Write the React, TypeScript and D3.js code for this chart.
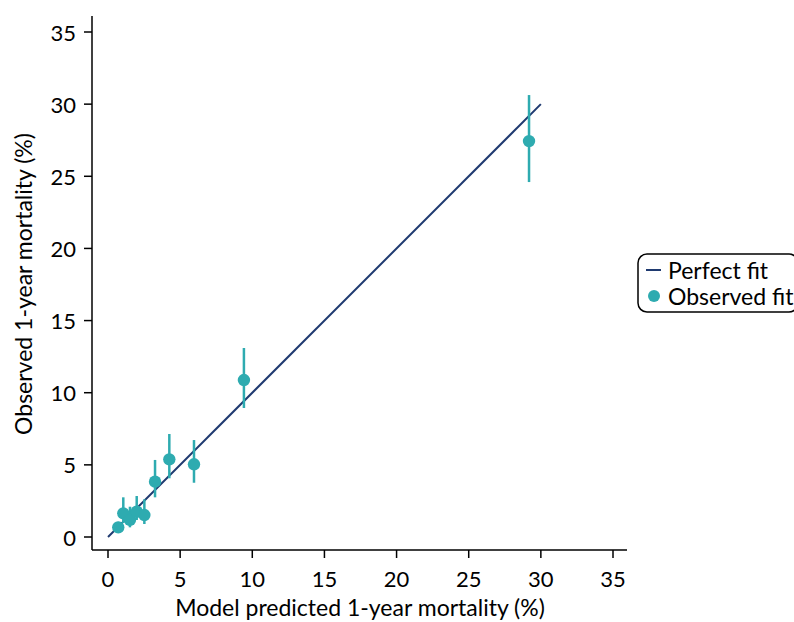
import React from "react";
import * as d3 from "d3";

const predicted = [0.71, 1.06, 1.52, 1.99, 2.52, 3.26, 4.25, 5.96, 9.42, 29.18];
const observed = [0.67, 1.64, 1.18, 1.75, 1.52, 3.83, 5.38, 5.04, 10.88, 27.44];
const lower = [0.35, 0.97, 0.67, 1.18, 0.9, 2.75, 4.07, 3.76, 8.94, 24.6];
const upper = [1.05, 2.75, 2.1, 2.84, 2.61, 5.34, 7.14, 6.72, 13.1, 30.63];
const perfectFit = [0, 30];
const ticks = [0, 5, 10, 15, 20, 25, 30, 35];
const legendLabels = ["Perfect fit", "Observed fit"];

const TEAL = "#2EABB0";
const NAVY = "#1F3A70";
const FONT = "Lato, 'Open Sans', sans-serif";
const FS = 22;
const FT = 23;

export default function App() {
  const W = 794, H = 622;
  const x = d3.scaleLinear().domain([0, 35]).range([108, 613]);
  const y = d3.scaleLinear().domain([0, 35]).range([537, 32]);
  const line = d3.line<number>().x((d) => x(d)).y((d) => y(d));
  const axisLeft = 92, axisBottom = 550;

  return (
    <svg width={W} height={H} style={{ position: "absolute", left: 0, top: 0 }} fontFamily={FONT}>
      <rect width={W} height={H} fill="#fff" />
      {/* axes */}
      <line x1={axisLeft} x2={axisLeft} y1={16} y2={axisBottom} stroke="#000" strokeWidth={1.5} />
      <line x1={axisLeft} x2={627} y1={axisBottom} y2={axisBottom} stroke="#000" strokeWidth={1.5} />
      {ticks.map((t) => (
        <g key={"y" + t}>
          <line x1={axisLeft - 8} x2={axisLeft} y1={y(t)} y2={y(t)} stroke="#000" strokeWidth={1.5} />
          <text x={axisLeft - 16} y={y(t)} textAnchor="end" dominantBaseline="central" fontSize={FS}>{t}</text>
        </g>
      ))}
      {ticks.map((t) => (
        <g key={"x" + t}>
          <line x1={x(t)} x2={x(t)} y1={axisBottom} y2={axisBottom + 8} stroke="#000" strokeWidth={1.5} />
          <text x={x(t)} y={axisBottom + 28} textAnchor="middle" dominantBaseline="central" fontSize={FS}>{t}</text>
        </g>
      ))}
      <text x={360} y={607} textAnchor="middle" dominantBaseline="central" fontSize={FT}>Model predicted 1-year mortality (%)</text>
      <text transform={`translate(23,284) rotate(-90)`} textAnchor="middle" dominantBaseline="central" fontSize={FT}>Observed 1-year mortality (%)</text>

      {/* perfect fit */}
      <path d={line(perfectFit) || ""} stroke={NAVY} strokeWidth={2} fill="none" />

      {/* error bars + points */}
      {predicted.map((p, i) => (
        <line key={"e" + i} x1={x(p)} x2={x(p)} y1={y(lower[i])} y2={y(upper[i])} stroke={TEAL} strokeWidth={2.5} />
      ))}
      {predicted.map((p, i) => (
        <circle key={"c" + i} cx={x(p)} cy={y(observed[i])} r={6.2} fill={TEAL} />
      ))}

      {/* legend */}
      <rect x={638} y={254} width={160} height={58} rx={9} ry={9} fill="#fff" stroke="#000" strokeWidth={1.5} />
      <line x1={646} x2={661} y1={270} y2={270} stroke={NAVY} strokeWidth={2} />
      <text x={668} y={270} dominantBaseline="central" fontSize={FT}>{legendLabels[0]}</text>
      <circle cx={654} cy={296} r={6} fill={TEAL} />
      <text x={668} y={296} dominantBaseline="central" fontSize={FT}>{legendLabels[1]}</text>
    </svg>
  );
}
